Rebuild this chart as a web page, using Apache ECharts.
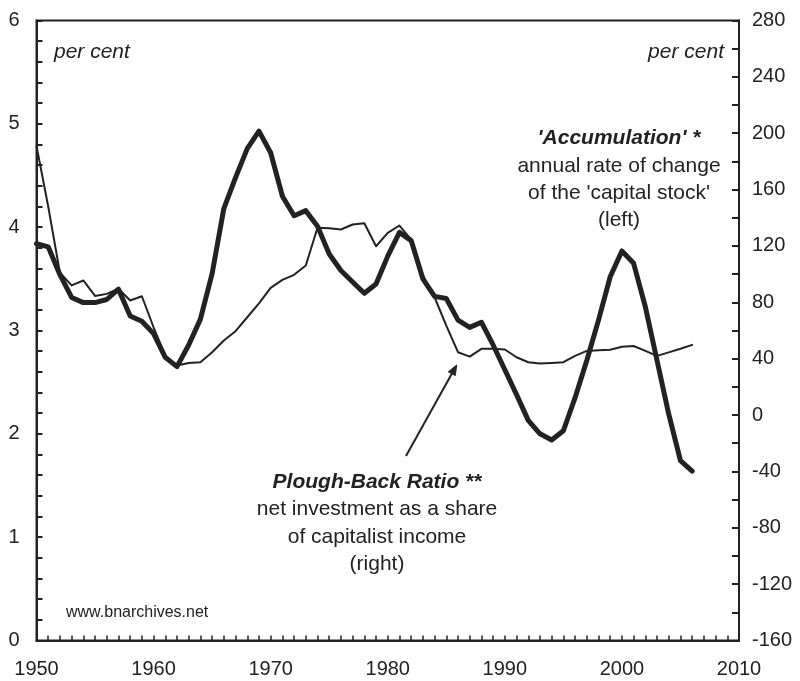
<!DOCTYPE html>
<html>
<head>
<meta charset="utf-8">
<script src="https://cdn.jsdelivr.net/npm/echarts@6/dist/echarts.min.js"></script>
<style>
html,body{margin:0;padding:0;background:#fff;}
#chart{width:800px;height:681px;}
</style>
</head>
<body>
<div id="chart"></div>
<script>
const years = [1950,1951,1952,1953,1954,1955,1956,1957,1958,1959,
  1960,1961,1962,1963,1964,1965,1966,1967,1968,1969,
  1970,1971,1972,1973,1974,1975,1976,1977,1978,1979,
  1980,1981,1982,1983,1984,1985,1986,1987,1988,1989,
  1990,1991,1992,1993,1994,1995,1996,1997,1998,1999,
  2000,2001,2002,2003,2004,2005,2006];

// 'Accumulation' – annual rate of change of the capital stock (left axis, per cent)
const accumulation = [3.84,3.81,3.54,3.32,3.27,3.27,3.30,3.40,3.14,3.09,
  2.97,2.74,2.65,2.86,3.11,3.55,4.18,4.48,4.76,4.93,
  4.72,4.30,4.11,4.16,4.01,3.74,3.58,3.47,3.36,3.45,
  3.72,3.95,3.87,3.50,3.33,3.31,3.10,3.03,3.08,2.86,
  2.62,2.38,2.13,2.00,1.94,2.03,2.35,2.71,3.10,3.52,
  3.77,3.65,3.23,2.71,2.19,1.74,1.64];

// Plough-Back Ratio – net investment as a share of capitalist income (right axis, per cent)
const ploughBack = [191,148,101,92,95.5,84.5,86,89.6,81.3,84.3,
  62.3,42.2,35.1,37.0,37.5,44.6,52.9,59.5,69.4,79.3,
  90.3,95.9,99.5,106.1,132.9,132.6,131.7,135.2,136.1,119.8,
  129.3,134.5,124.5,99,83.6,63.5,44.6,41.5,47,47,
  46.5,41,37.5,36.5,37,37.5,42,45.5,46,46.3,
  48.5,49,45.5,42,44.5,47,49.8];

const FONT = '"Liberation Sans", Arial, Helvetica, sans-serif';
const INK = '#222';

const chart = echarts.init(document.getElementById('chart'), null, {renderer: 'canvas'});

const pairs = (xs, ys) => xs.map((x, i) => [x, ys[i]]);

const option = {
  animation: false,
  backgroundColor: '#fff',
  grid: {left: 36.5, right: 61, top: 20.5, bottom: 40.5, show: true, borderColor: INK, borderWidth: 2, backgroundColor: 'transparent'},
  xAxis: {
    type: 'value', min: 1950, max: 2010, interval: 10,
    axisLine: {show: true, lineStyle: {color: INK, width: 2}},
    axisTick: {show: true, inside: true, length: 5, lineStyle: {color: INK, width: 1.5}},
    minorTick: {show: true, splitNumber: 10, length: 5, lineStyle: {color: INK, width: 1.5}},
    splitLine: {show: false},
    axisLabel: {color: INK, fontSize: 20, fontFamily: FONT, margin: 19, formatter: v => String(v)}
  },
  yAxis: [{
    type: 'value', min: 0, max: 6, interval: 1, position: 'left',
    axisLine: {show: true, lineStyle: {color: INK, width: 2}},
    axisTick: {show: true, inside: true, length: 6, lineStyle: {color: INK, width: 2}},
    minorTick: {show: true, splitNumber: 5, length: 6, lineStyle: {color: INK, width: 2}},
    splitLine: {show: false},
    axisLabel: {color: INK, fontSize: 20, fontFamily: FONT, margin: 17}
  }, {
    type: 'value', min: -160, max: 280, interval: 40, position: 'right',
    axisLine: {show: true, lineStyle: {color: INK, width: 2}},
    axisTick: {show: true, inside: true, length: 7, lineStyle: {color: INK, width: 2}},
    minorTick: {show: true, splitNumber: 2, length: 7, lineStyle: {color: INK, width: 2}},
    splitLine: {show: false},
    axisLabel: {color: INK, fontSize: 20, fontFamily: FONT, margin: 13}
  }],
  series: [{
    name: 'Plough-Back Ratio', type: 'line', yAxisIndex: 1,
    data: pairs(years, ploughBack), showSymbol: false, symbol: 'none',
    lineStyle: {color: INK, width: 2, join: 'round', cap: 'round'}, z: 2
  }, {
    name: 'Accumulation', type: 'line', yAxisIndex: 0,
    data: pairs(years, accumulation), showSymbol: false, symbol: 'none',
    lineStyle: {color: INK, width: 5, join: 'round', cap: 'round'}, z: 3
  }],
  graphic: [
    {type: 'text', left: 54, top: 42, style: {text: 'per cent', font: 'italic 21px ' + FONT, fill: INK}},
    {type: 'text', right: 76, top: 42, style: {text: 'per cent', font: 'italic 21px ' + FONT, fill: INK}},
    {type: 'text', x: 619, y: 138, style: {text: "'Accumulation' *", font: 'italic bold 21px ' + FONT, fill: INK, align: 'center', verticalAlign: 'middle'}},
    {type: 'text', x: 619, y: 166, style: {text: 'annual rate of change', font: '21px ' + FONT, fill: INK, align: 'center', verticalAlign: 'middle'}},
    {type: 'text', x: 619, y: 193, style: {text: "of the 'capital stock'", font: '21px ' + FONT, fill: INK, align: 'center', verticalAlign: 'middle'}},
    {type: 'text', x: 619, y: 220, style: {text: '(left)', font: '21px ' + FONT, fill: INK, align: 'center', verticalAlign: 'middle'}},
    {type: 'text', x: 377, y: 482, style: {text: 'Plough-Back Ratio **', font: 'italic bold 21px ' + FONT, fill: INK, align: 'center', verticalAlign: 'middle'}},
    {type: 'text', x: 377, y: 509, style: {text: 'net investment as a share', font: '21px ' + FONT, fill: INK, align: 'center', verticalAlign: 'middle'}},
    {type: 'text', x: 377, y: 537, style: {text: 'of capitalist income', font: '21px ' + FONT, fill: INK, align: 'center', verticalAlign: 'middle'}},
    {type: 'text', x: 377, y: 564, style: {text: '(right)', font: '21px ' + FONT, fill: INK, align: 'center', verticalAlign: 'middle'}},
    {type: 'text', x: 66, y: 613, style: {text: 'www.bnarchives.net', font: '16px ' + FONT, fill: INK, align: 'left', verticalAlign: 'middle'}},
    {type: 'line', shape: {x1: 406, y1: 456, x2: 451.8, y2: 373.7}, style: {stroke: INK, lineWidth: 2}},
    {type: 'polygon', shape: {points: [[456.7, 365], [455.3, 375.6], [448.3, 371.8]]}, style: {fill: INK, stroke: INK, lineWidth: 1}}
  ]
};
chart.setOption(option);
</script>
</body>
</html>
